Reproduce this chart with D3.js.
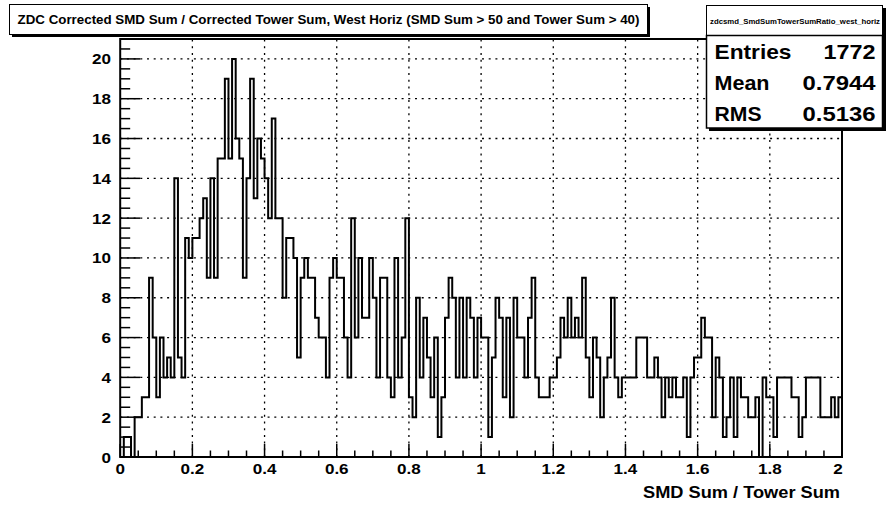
<!DOCTYPE html>
<html><head><meta charset="utf-8">
<script src="https://cdn.jsdelivr.net/npm/d3@7"></script>
<style>
html,body{margin:0;padding:0;background:#fff;}
svg text{font-family:"Liberation Sans",Arial,Helvetica,sans-serif;font-weight:bold;fill:#000;}
</style></head>
<body>
<script>
// ---- data ----
const titleText = "ZDC Corrected SMD Sum / Corrected Tower Sum, West Horiz (SMD Sum > 50 and Tower Sum > 40)";
const histName = "zdcsmd_SmdSumTowerSumRatio_west_horiz";
const xTitle = "SMD Sum / Tower Sum";
const xRange = [0, 2];
const binWidth = 0.01;
const counts = [
 0,1,1,0,2,2,3,3,9,6, 3,6,4,5,4,14,5,4,11,10, 11,11,12,13,9,
 14,9,15,15,19,15,20,16,15,9, 14,19,13,16,15,14,12,17,12,12, 8,11,11,10,5,
 9,10,9,9,7,6,6,4,9,10, 9,9,6,4,12,6,10,7,7,10, 8,4,9,9,4,
 3,10,4,6,12,3,2,8,4,7, 5,3,6,1,3,7,9,8,4,8, 4,8,7,4,7,
 6,6,1,5,8,7,3,7,2,8, 6,6,4,7,9,4,3,3,3,4, 4,5,7,6,8,
 6,7,6,9,5,3,6,5,2,4, 5,8,4,3,4,4,4,4,6,6, 6,4,4,5,4,
 2,4,3,4,3,3,4,1,4,5, 5,7,6,6,2,5,4,1,2,4, 1,4,3,3,2,
 2,3,0,4,3,3,1,4,4,4, 4,3,3,1,2,4,4,4,4,2, 2,2,3,2,3
];
const xTickLabels = [0,0.2,0.4,0.6,0.8,1,1.2,1.4,1.6,1.8,2];
const yTickLabels = [0,2,4,6,8,10,12,14,16,18,20];
const statNames = ["Entries","Mean","RMS"];
const statValues = ["1772","0.7944","0.5136"];

// ---- layout ----
const W = 888, H = 506;
const svg = d3.select("body").append("svg").attr("width", W).attr("height", H);
const L = 120.2, R = 842, T = 39, B = 457;
const x = d3.scaleLinear().domain(xRange).range([L, R]);
const y = d3.scaleLinear().domain([0, 21]).range([B, T]);

// grid
const g = svg.append("g");
g.selectAll(".vg").data(xTickLabels.filter(v => v > 0 && v < 2)).enter().append("line")
  .attr("x1", d => x(d)).attr("x2", d => x(d)).attr("y1", B).attr("y2", T)
  .attr("stroke", "#000").attr("stroke-width", 1.3).attr("stroke-dasharray", "2,4.7");
g.selectAll(".hg").data(yTickLabels.filter(v => v > 0)).enter().append("line")
  .attr("x1", L).attr("x2", R).attr("y1", d => y(d)).attr("y2", d => y(d))
  .attr("stroke", "#000").attr("stroke-width", 1.3).attr("stroke-dasharray", "2,4.7");

// histogram
const pts = counts.map((c, i) => [xRange[0] + i * binWidth, c]);
pts.push([xRange[1], counts[counts.length - 1]]);
const line = d3.line().x(d => x(d[0])).y(d => y(d[1])).curve(d3.curveStepAfter);
svg.append("path").attr("d", line(pts)).attr("fill", "none")
  .attr("stroke", "#000").attr("stroke-width", 2).attr("stroke-linejoin", "miter");

// frame
svg.append("rect").attr("x", L).attr("y", T).attr("width", R - L).attr("height", B - T)
  .attr("fill", "none").attr("stroke", "#000").attr("stroke-width", 2);

// x axis ticks
const xMinor = d3.range(0, 2.0001, 0.05);
svg.selectAll(".xt").data(xMinor).enter().append("line")
  .attr("x1", d => x(d)).attr("x2", d => x(d)).attr("y1", B)
  .attr("y2", d => (Math.abs(d / 0.2 - Math.round(d / 0.2)) < 1e-6) ? B - 13 : B - 6.5)
  .attr("stroke", "#000").attr("stroke-width", 1.5);
svg.selectAll(".xl").data(xTickLabels).enter().append("text")
  .attr("transform", d => `translate(${d === 2 ? x(d) - 4 : x(d)},473.5) scale(1.1,1)`)
  .attr("text-anchor", "middle")
  .attr("font-size", 15.5).text(d => d3.format("~g")(d));

// y axis ticks
const yMinor = d3.range(0, 21.0001, 0.5);
svg.selectAll(".yt").data(yMinor).enter().append("line")
  .attr("y1", d => y(d)).attr("y2", d => y(d)).attr("x1", L)
  .attr("x2", d => (d % 2 === 0) ? L + 20 : L + 10)
  .attr("stroke", "#000").attr("stroke-width", 1.5);
svg.selectAll(".yl").data(yTickLabels).enter().append("text")
  .attr("transform", d => `translate(111,${y(d) + 5.5}) scale(1.1,1)`)
  .attr("text-anchor", "end")
  .attr("font-size", 15.5).text(d => d);

// x title
svg.append("text").attr("x", 840).attr("y", 498).attr("text-anchor", "end")
  .attr("font-size", 16.5).attr("textLength", 197).attr("lengthAdjust", "spacingAndGlyphs").text(xTitle);

// title box
svg.append("rect").attr("x", 12).attr("y", 7).attr("width", 638).attr("height", 30).attr("fill", "#000");
svg.append("rect").attr("x", 9.5).attr("y", 4.5).attr("width", 638).attr("height", 30)
  .attr("fill", "#fff").attr("stroke", "#000").attr("stroke-width", 1);
svg.append("text").attr("x", 328.5).attr("y", 24).attr("text-anchor", "middle")
  .attr("font-size", 12).attr("textLength", 622).attr("lengthAdjust", "spacingAndGlyphs").text(titleText);

// stats box
svg.append("rect").attr("x", 709).attr("y", 8).attr("width", 177).attr("height", 123).attr("fill", "#000");
svg.append("rect").attr("x", 706.5).attr("y", 5.5).attr("width", 176).attr("height", 30)
  .attr("fill", "#fff").attr("stroke", "#000").attr("stroke-width", 1);
svg.append("rect").attr("x", 706.5).attr("y", 35.5).attr("width", 176).attr("height", 92.5)
  .attr("fill", "#fff").attr("stroke", "#000").attr("stroke-width", 1.5);
svg.append("text").attr("x", 795).attr("y", 23.5).attr("text-anchor", "middle")
  .attr("font-size", 8).attr("textLength", 170).attr("lengthAdjust", "spacingAndGlyphs").text(histName);
const rowY = [59, 90, 121];
const nameW = [77, 55, 47];
const valW = [52, 73, 73];
svg.selectAll(".sn").data(statNames).enter().append("text")
  .attr("x", 714.5).attr("y", (d, i) => rowY[i]).attr("font-size", 21)
  .attr("textLength", (d, i) => nameW[i]).attr("lengthAdjust", "spacingAndGlyphs").text(d => d);
svg.selectAll(".sv").data(statValues).enter().append("text")
  .attr("x", 875.5).attr("y", (d, i) => rowY[i]).attr("text-anchor", "end").attr("font-size", 21)
  .attr("textLength", (d, i) => valW[i]).attr("lengthAdjust", "spacingAndGlyphs").text(d => d);
</script>
</body></html>
